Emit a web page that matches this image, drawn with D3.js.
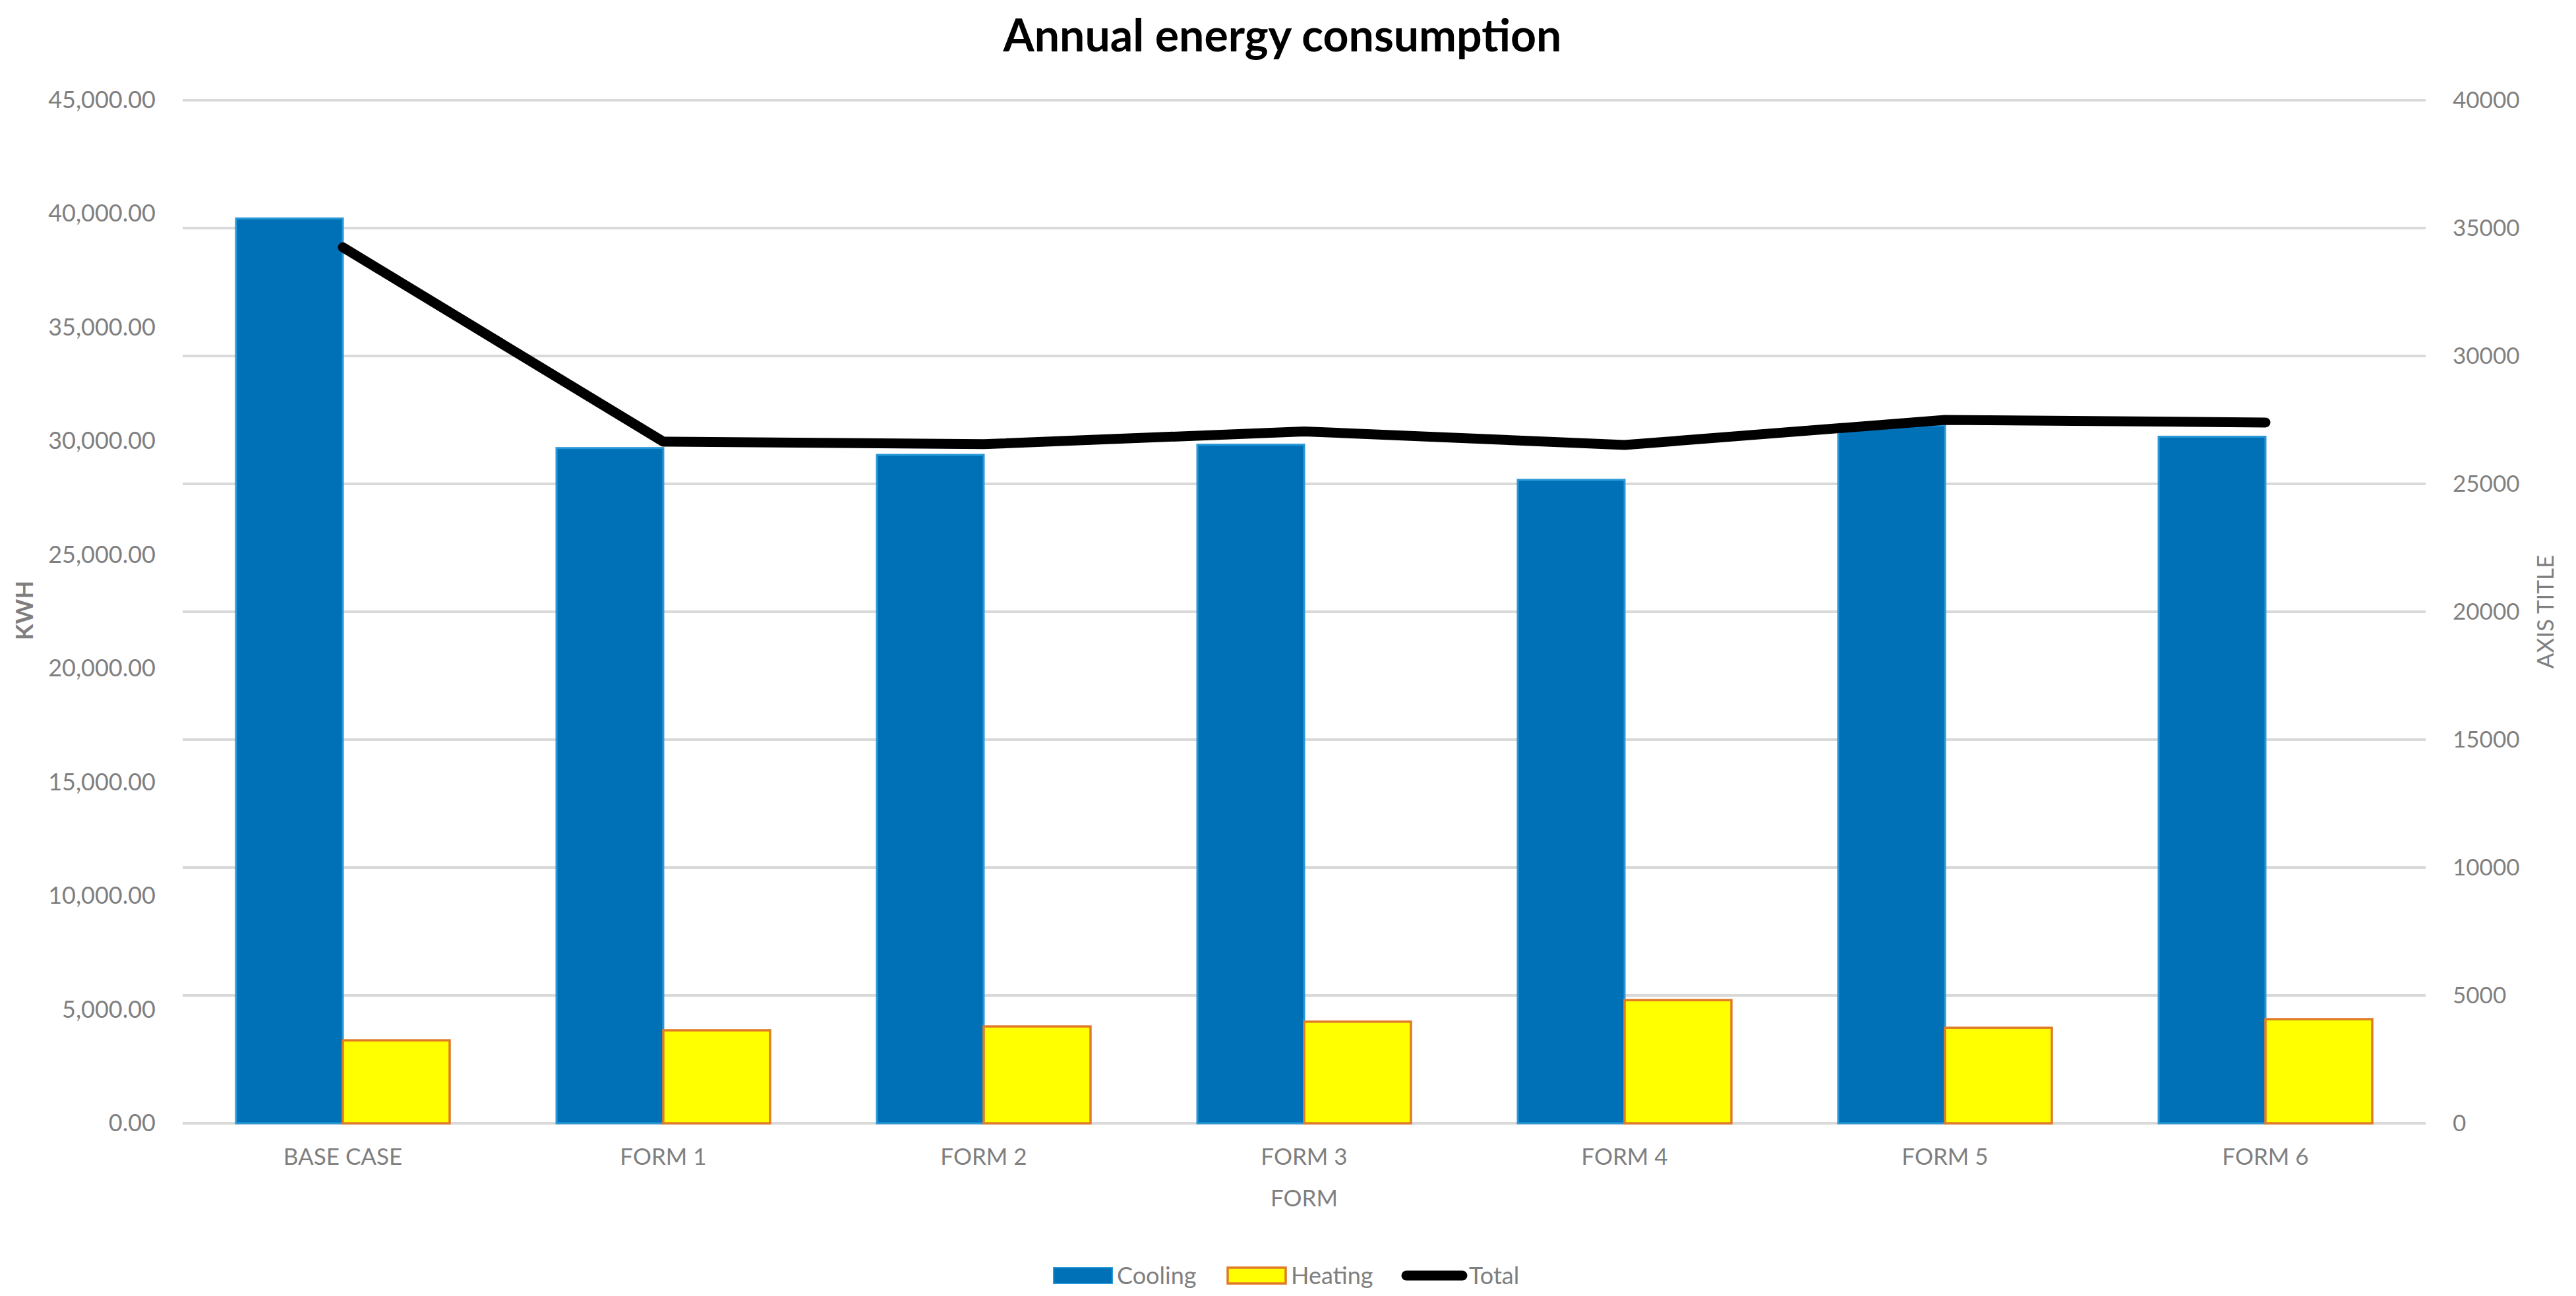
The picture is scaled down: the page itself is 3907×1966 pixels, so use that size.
<!DOCTYPE html>
<html>
<head>
<meta charset="utf-8">
<script src="https://cdn.jsdelivr.net/npm/d3@7"></script>
<style>
    body { margin: 0; background: #fff; }
    text { font-family: Lato, "Open Sans", sans-serif; }
</style>
</head>
<body>
<div id="chart"></div>
<script>
// chart values
var categories = ["BASE CASE", "FORM 1", "FORM 2", "FORM 3", "FORM 4", "FORM 5", "FORM 6"];
var cooling = [39800, 29700, 29400, 29850, 28300, 30700, 30200];
var heating = [3650, 4090, 4260, 4470, 5420, 4200, 4580];
var total = [34250, 26650, 26550, 27050, 26520, 27500, 27400];
var leftTicks = [0, 5000, 10000, 15000, 20000, 25000, 30000, 35000, 40000, 45000];
var rightTicks = [0, 5000, 10000, 15000, 20000, 25000, 30000, 35000, 40000];
var seriesNames = ["Cooling", "Heating", "Total"];

var svgWidth = 3907;
var svgHeight = 1966;

var margin = {
    top: 152,
    right: 228,
    bottom: 262,
    left: 277
};

var width = svgWidth - margin.left - margin.right;
var height = svgHeight - margin.top - margin.bottom;

var svg = d3.select("#chart")
    .append("svg")
    .attr("width", svgWidth)
    .attr("height", svgHeight)
    .style("background", "#fff");

var chartGroup = svg.append("g")
    .attr("transform", `translate(${margin.left}, ${margin.top})`);

// scales
var xScale = d3.scaleBand()
    .domain(categories)
    .range([0, width])
    .paddingInner(0)
    .paddingOuter(0);

var bw = xScale.bandwidth();
var xInner = d3.scaleBand()
    .domain(["cooling", "heating"])
    .range([bw / 6, bw * 5 / 6]);

var yLeft = d3.scaleLinear()
    .domain([0, 45000])
    .range([height, 0]);

var yRight = d3.scaleLinear()
    .domain([0, 40000])
    .range([height, 0]);

// gridlines follow the secondary axis
chartGroup.append("g")
    .selectAll("line")
    .data(rightTicks)
    .enter()
    .append("line")
    .attr("x1", 0)
    .attr("x2", width)
    .attr("y1", d => yRight(d))
    .attr("y2", d => yRight(d))
    .attr("stroke", "#d9d9d9")
    .attr("stroke-width", 4);

// left axis
var leftAxis = d3.axisLeft(yLeft)
    .tickValues(leftTicks)
    .tickFormat(d3.format(",.2f"))
    .tickSize(0)
    .tickPadding(41);

var leftG = chartGroup.append("g").call(leftAxis);
leftG.select(".domain").remove();
leftG.selectAll("text")
    .attr("font-family", "Lato, sans-serif")
    .attr("font-size", 36)
    .attr("fill", "#7f7f7f");

// right axis
var rightAxis = d3.axisRight(yRight)
    .tickValues(rightTicks)
    .tickFormat(d3.format("d"))
    .tickSize(0)
    .tickPadding(41);

var rightG = chartGroup.append("g")
    .attr("transform", `translate(${width}, 0)`)
    .call(rightAxis);
rightG.select(".domain").remove();
rightG.selectAll("text")
    .attr("font-family", "'Open Sans', sans-serif")
    .attr("font-size", 35)
    .attr("fill", "#7f7f7f");

// bottom axis
var bottomAxis = d3.axisBottom(xScale).tickSize(0);
var bottomG = chartGroup.append("g")
    .attr("transform", `translate(0, ${height})`)
    .call(bottomAxis);
bottomG.select(".domain").remove();
bottomG.selectAll("text")
    .attr("y", 51)
    .attr("dy", "0.35em")
    .attr("font-family", "Lato, sans-serif")
    .attr("font-size", 35)
    .attr("fill", "#7f7f7f");

// cooling bars
chartGroup.selectAll(".cooling")
    .data(cooling)
    .enter()
    .append("rect")
    .attr("class", "cooling")
    .attr("x", (d, i) => xScale(categories[i]) + xInner("cooling"))
    .attr("y", d => yLeft(d))
    .attr("width", xInner.bandwidth())
    .attr("height", d => height - yLeft(d))
    .attr("fill", "#0071b6")
    .attr("stroke", "#2a98d6")
    .attr("stroke-width", 3);

// heating bars
chartGroup.selectAll(".heating")
    .data(heating)
    .enter()
    .append("rect")
    .attr("class", "heating")
    .attr("x", (d, i) => xScale(categories[i]) + xInner("heating"))
    .attr("y", d => yLeft(d))
    .attr("width", xInner.bandwidth())
    .attr("height", d => height - yLeft(d))
    .attr("fill", "#ffff00")
    .attr("stroke", "#e07b28")
    .attr("stroke-width", 3.5);

// total line on the secondary axis
var totalLine = d3.line()
    .x((d, i) => xScale(categories[i]) + bw / 2)
    .y(d => yRight(d));

chartGroup.append("path")
    .datum(total)
    .attr("d", totalLine)
    .attr("fill", "none")
    .attr("stroke", "#000")
    .attr("stroke-width", 15)
    .attr("stroke-linejoin", "round")
    .attr("stroke-linecap", "round");

// title
svg.append("text")
    .attr("x", 1945)
    .attr("y", 78)
    .attr("text-anchor", "middle")
    .attr("font-family", "Lato, sans-serif")
    .attr("font-weight", "bold")
    .attr("font-size", 68)
    .attr("fill", "#000")
    .text("Annual energy consumption");

// axis titles
svg.append("text")
    .attr("transform", "translate(37, 926) rotate(-90)")
    .attr("text-anchor", "middle")
    .attr("dy", "0.35em")
    .attr("font-family", "Lato, sans-serif")
    .attr("font-weight", "bold")
    .attr("font-size", 36)
    .attr("fill", "#7f7f7f")
    .text("KWH");

svg.append("text")
    .attr("transform", "translate(3861, 928) rotate(-90)")
    .attr("text-anchor", "middle")
    .attr("dy", "0.35em")
    .attr("font-family", "'Open Sans', sans-serif")
    .attr("font-size", 35)
    .attr("fill", "#7f7f7f")
    .text("AXIS TITLE");

svg.append("text")
    .attr("x", 1978)
    .attr("y", 1818)
    .attr("dy", "0.35em")
    .attr("text-anchor", "middle")
    .attr("font-family", "Lato, sans-serif")
    .attr("font-size", 35)
    .attr("fill", "#7f7f7f")
    .text("FORM");

// legend
var legend = svg.append("g")
    .attr("transform", "translate(0, 1935)");

legend.append("rect")
    .attr("x", 1598).attr("y", -12)
    .attr("width", 89).attr("height", 24)
    .attr("fill", "#0071b6")
    .attr("stroke", "#2a98d6")
    .attr("stroke-width", 2);

legend.append("rect")
    .attr("x", 1862).attr("y", -12)
    .attr("width", 88).attr("height", 24)
    .attr("fill", "#ffff00")
    .attr("stroke", "#e07b28")
    .attr("stroke-width", 3.5);

legend.append("line")
    .attr("x1", 2133).attr("x2", 2218)
    .attr("y1", 0).attr("y2", 0)
    .attr("stroke", "#000")
    .attr("stroke-width", 15)
    .attr("stroke-linecap", "round");

var legendX = [1694, 1958, 2228];
legend.selectAll(".legend-text")
    .data(seriesNames)
    .enter()
    .append("text")
    .attr("class", "legend-text")
    .attr("x", (d, i) => legendX[i])
    .attr("y", 0)
    .attr("dy", "0.35em")
    .attr("font-family", "Lato, sans-serif")
    .attr("font-size", 36)
    .attr("fill", "#7f7f7f")
    .text(d => d);
</script>
</body>
</html>
